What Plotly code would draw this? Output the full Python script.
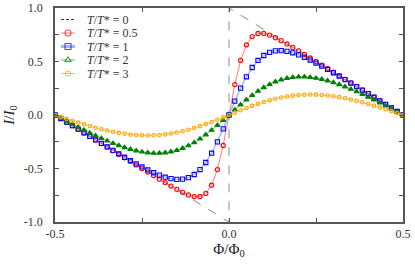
import plotly.graph_objects as go

phi = [round(-0.5 + k / 60, 6) for k in range(61)]

i_t05 = [0.0, -0.0333, -0.0667, -0.1000, -0.1333, -0.1667, -0.2000, -0.2333, -0.2667, -0.3000,
         -0.3333, -0.3667, -0.4000, -0.4333, -0.4666, -0.4999, -0.5331, -0.5663, -0.5993, -0.6319,
         -0.6639, -0.6947, -0.7230, -0.7469, -0.7621, -0.7615, -0.7325, -0.6561, -0.5104, -0.2843,
         0.0,
         0.2843, 0.5104, 0.6561, 0.7325, 0.7615, 0.7621, 0.7469, 0.7230, 0.6947, 0.6639,
         0.6319, 0.5993, 0.5663, 0.5331, 0.4999, 0.4666, 0.4333, 0.4000, 0.3667, 0.3333,
         0.3000, 0.2667, 0.2333, 0.2000, 0.1667, 0.1333, 0.1000, 0.0667, 0.0333, 0.0]
i_t1 = [0.0, -0.0332, -0.0665, -0.0997, -0.1329, -0.1661, -0.1993, -0.2327, -0.2652, -0.2980,
        -0.3306, -0.3628, -0.3947, -0.4259, -0.4564, -0.4857, -0.5135, -0.5393, -0.5621, -0.5811,
        -0.5949, -0.6016, -0.5991, -0.5849, -0.5561, -0.5097, -0.4437, -0.3570, -0.2509, -0.1297,
        0.0,
        0.1297, 0.2509, 0.3570, 0.4437, 0.5097, 0.5561, 0.5849, 0.5991, 0.6016, 0.5949,
        0.5811, 0.5621, 0.5393, 0.5135, 0.4857, 0.4564, 0.4259, 0.3947, 0.3628, 0.3306,
        0.2980, 0.2652, 0.2327, 0.1993, 0.1661, 0.1329, 0.0997, 0.0665, 0.0332, 0.0]
i_t2 = [0.0, -0.0287, -0.0573, -0.0855, -0.1134, -0.1408, -0.1675, -0.1934, -0.2184, -0.2420,
        -0.2643, -0.2849, -0.3036, -0.3200, -0.3339, -0.3449, -0.3525, -0.3567, -0.3568, -0.3525,
        -0.3436, -0.3298, -0.3107, -0.2865, -0.2573, -0.2231, -0.1843, -0.1419, -0.0963, -0.0487,
        0.0,
        0.0487, 0.0963, 0.1419, 0.1843, 0.2231, 0.2573, 0.2865, 0.3107, 0.3298, 0.3436,
        0.3525, 0.3568, 0.3567, 0.3525, 0.3449, 0.3339, 0.3200, 0.3036, 0.2849, 0.2643,
        0.2420, 0.2184, 0.1934, 0.1675, 0.1408, 0.1134, 0.0855, 0.0573, 0.0287, 0.0]
i_t3 = [0.0, -0.0179, -0.0359, -0.0536, -0.0708, -0.0875, -0.1034, -0.1185, -0.1325, -0.1454,
        -0.1569, -0.1670, -0.1755, -0.1823, -0.1872, -0.1902, -0.1911, -0.1899, -0.1866, -0.1810,
        -0.1733, -0.1634, -0.1514, -0.1374, -0.1215, -0.1040, -0.0851, -0.0649, -0.0438, -0.0221,
        0.0,
        0.0221, 0.0438, 0.0649, 0.0851, 0.1040, 0.1215, 0.1374, 0.1514, 0.1634, 0.1733,
        0.1810, 0.1866, 0.1899, 0.1911, 0.1902, 0.1872, 0.1823, 0.1755, 0.1670, 0.1569,
        0.1454, 0.1325, 0.1185, 0.1034, 0.0875, 0.0708, 0.0536, 0.0359, 0.0179, 0.0]

t0_phi = [-0.5, 0.0, 0.0, 0.5]
t0_i = [0.0, -1.0, 1.0, 0.0]

labels = ["<i>T</i>/<i>T</i>* = 0", "<i>T</i>/<i>T</i>* = 0.5",
          "<i>T</i>/<i>T</i>* = 1", "<i>T</i>/<i>T</i>* = 2",
          "<i>T</i>/<i>T</i>* = 3"]

x_ticks = [-0.5, 0.0, 0.5]
x_labels = ["-0.5", "0.0", "0.5"]
y_ticks = [-1.0, -0.5, 0.0, 0.5, 1.0]
y_labels = ["-1.0", "-0.5", "0.0", "0.5", "1.0"]

FONT = "Liberation Serif"
W, H = 415, 265
L, R, T, B = 55, 12, 8, 43
PW, PH = W - L - R, H - T - B

fig = go.Figure()
fig.add_trace(go.Scatter(x=t0_phi, y=t0_i, mode="lines", name=labels[0], showlegend=False,
                         line=dict(color="#8c8c8c", width=1, dash="dash")))
styles = [
    ("#ff0000", "rgba(255,100,100,0.85)", "circle-open", 4.2, 1.0),
    ("#0000ff", "rgba(110,110,255,0.55)", "square-open", 4.2, 1.4),
    ("#008000", "rgba(70,170,70,0.75)", "triangle-up", 4.5, 1.0),
    ("#ffa500", "rgba(255,185,70,0.85)", "circle-open", 3.5, 1.0),
]
for ys, nm, st in zip([i_t05, i_t1, i_t2, i_t3], labels[1:], styles):
    mc, lc, sym, sz, lw = st
    fig.add_trace(go.Scatter(
        x=phi, y=ys, mode="lines+markers", name=nm, showlegend=False,
        line=dict(color=lc, width=lw),
        marker=dict(symbol=sym, size=sz, color=mc, line=dict(color=mc, width=1.1))))

# manual legend on an overlay axis in plot-fraction coordinates
rows_px = [19.5, 33.0, 46.5, 60.0, 73.5]
lx0, lx1, ltxt = (61 - L) / PW, (75 - L) / PW, (85 - L) / PW
legend_markers = ["circle-open", "square-open", "triangle-up-open", "circle-open"]
for idx, py in enumerate(rows_px):
    yy = (T + PH - py) / PH
    if idx == 0:
        fig.add_trace(go.Scatter(x=[lx0, lx1], y=[yy, yy], mode="lines", xaxis="x2", yaxis="y2",
                                 showlegend=False, hoverinfo="skip",
                                 line=dict(color="#333333", width=1, dash="3px,2px")))
    else:
        mc, lc, sym, sz, lw = styles[idx - 1]
        fig.add_trace(go.Scatter(x=[lx0, (lx0 + lx1) / 2, lx1], y=[yy, yy, yy], mode="lines+markers",
                                 xaxis="x2", yaxis="y2", showlegend=False, hoverinfo="skip",
                                 line=dict(color=lc, width=3 if idx == 2 else lw),
                                 marker=dict(symbol=legend_markers[idx - 1],
                                             size=[0, 6 if idx < 4 else 5, 0], color=mc,
                                             line=dict(color=mc, width=1.1))))
    fig.add_annotation(x=ltxt, y=yy, xref="x2", yref="y2", text=labels[idx], showarrow=False,
                       xanchor="left", yanchor="middle",
                       font=dict(family=FONT, size=12, color="#333333"))

axis_common = dict(showgrid=False, zeroline=False, showline=True, linecolor="#555555",
                   linewidth=1.5, mirror="ticks", ticks="inside", ticklen=4,
                   tickcolor="#555555", tickwidth=1, automargin=False,
                   minor=dict(ticks="inside", ticklen=4, tickcolor="#555555", dtick=0.25, showgrid=False),
                   tickfont=dict(family=FONT, size=12, color="#333333"))
fig.update_xaxes(range=[-0.5, 0.5], tickvals=x_ticks, ticktext=x_labels,
                 title=dict(text="Φ/Φ<sub>0</sub>", font=dict(family=FONT, size=15, color="#222222"),
                            standoff=2),
                 **axis_common)
fig.update_yaxes(range=[-1.0, 1.0], tickvals=y_ticks, ticktext=y_labels, ticklabelstandoff=8,
                 title=dict(text="<i>I</i>/<i>I</i><sub>0</sub>", font=dict(family=FONT, size=15, color="#222222"),
                            standoff=6),
                 **axis_common)
fig.update_layout(
    width=W, height=H,
    margin=dict(l=L, r=R, t=T, b=B),
    plot_bgcolor="white", paper_bgcolor="white",
    showlegend=False,
    xaxis2=dict(overlaying="x", range=[0, 1], visible=False, fixedrange=True),
    yaxis2=dict(overlaying="y", range=[0, 1], visible=False, fixedrange=True),
)
fig.write_html("out.html", config={"displayModeBar": False},
               post_script="document.body.style.margin='0';")
